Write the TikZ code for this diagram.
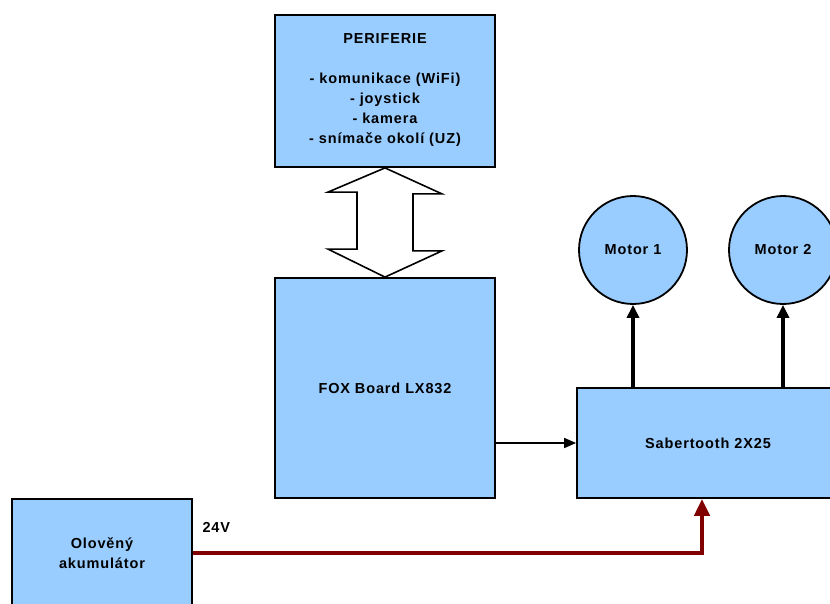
\documentclass[tikz,border=0pt]{standalone}
\usepackage{fontspec}
\setmainfont{Liberation Sans}
\newfontfamily\diagfont[LetterSpace=6]{Liberation Sans}
\usetikzlibrary{arrows.meta,calc}
\definecolor{boxblue}{HTML}{99CCFF}
\definecolor{wire}{HTML}{800000}
\tikzset{
  blk/.style={draw=black, line width=1.8pt, fill=boxblue, align=center, inner sep=0pt,
    font=\diagfont\bfseries\fontsize{14.5}{20}\selectfont},
  motor/.style={circle, draw=black, line width=1.8pt, fill=boxblue, minimum size=108pt, inner sep=0pt,
    font=\diagfont\bfseries\fontsize{14.5}{18}\selectfont},
  thin arrow/.style={line width=1.6pt, -{Triangle[length=12pt,width=10pt]}},
  thick arrow/.style={line width=4pt, -{Triangle[length=13pt,width=12pt]}},
  power/.style={draw=wire, line width=4.5pt, -{Triangle[length=17pt,width=15pt]}},
  lbl/.style={font=\diagfont\bfseries\fontsize{14.5}{18}\selectfont}
}
\begin{document}
\begin{tikzpicture}[x=1pt,y=-1pt]
\useasboundingbox (0,0) rectangle (830,604);
\clip (0,0) rectangle (830,604);
\node[blk, minimum width=220pt, minimum height=152pt] (peri) at (385,91)
  {\mbox{}\\[-12pt]PERIFERIE\\[20pt]- komunikace (WiFi)\\- joystick\\- kamera\\- snímače okolí (UZ)};
\node[blk, minimum width=220pt, minimum height=220pt] (fox) at (385,388) {FOX Board LX832};
\node[blk, minimum width=262pt, minimum height=110pt] (sab) at (708,443) {Sabertooth 2X25};
\node[motor] (m1) at (633,250) {Motor 1};
\node[motor] (m2) at (783,250) {Motor 2};
\node[blk, minimum width=180pt, minimum height=108pt] (batt) at (102,553) {Olověný\\akumulátor};
% double arrow between peripherals and board
\draw[line width=1.6pt, fill=white, line join=miter]
  (peri.south) -- ++(57,26) -- ++(-29,0) -- ++(0,57) -- ++(29,0)
  -- (fox.north) -- ++(-57,-28) -- ++(29,0) -- ++(0,-57) -- ++(-29,0) -- cycle;
% control signal
\draw[thin arrow] (fox.east |- sab.west) -- (sab.west);
% motor drives
\draw[thick arrow] (m1.south |- sab.north) -- (m1.south);
\draw[thick arrow] (m2.south |- sab.north) -- (m2.south);
% power line
\coordinate (pin) at ($(sab.south)+(-6,0)$);
\draw[power] (batt.east) -| (pin);
\node[lbl, anchor=west] (v) at (199,527) {24V};
\end{tikzpicture}
\end{document}
